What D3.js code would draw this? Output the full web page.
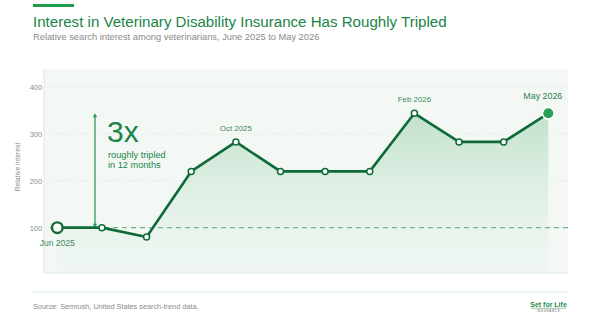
<!DOCTYPE html>
<html><head><meta charset="utf-8">
<script src="https://cdn.jsdelivr.net/npm/d3@7"></script>
<style>
html,body{margin:0;padding:0;background:#fff;}
svg{display:block;font-family:"Liberation Sans",Arial,Helvetica,sans-serif;}
</style></head>
<body><svg id="c" width="595" height="327"></svg>
<script>
const months = ["Jun 2025","Jul 2025","Aug 2025","Sep 2025","Oct 2025","Nov 2025","Dec 2025","Jan 2026","Feb 2026","Mar 2026","Apr 2026","May 2026"];
const values = [100,100,80,220,283,220,220,220,344,283,283,344];
const yTicks = [100,200,300,400];
const labeled = {"Jun 2025":"below","Oct 2025":"above","Feb 2026":"above","May 2026":"end"};
const title = "Interest in Veterinary Disability Insurance Has Roughly Tripled";
const subtitle = "Relative search interest among veterinarians, June 2025 to May 2026";
const source = "Source: Semrush, United States search-trend data.";

const svg = d3.select("#c");
const panel = {x0:44, x1:568, y0:69, y1:273};
const x = d3.scalePoint().domain(months).range([57.3,548.3]);
const y = d3.scaleLinear().domain([0,440]).range([274.5,68.3]);

const defs = svg.append("defs");
const g1 = defs.append("linearGradient").attr("id","ag").attr("x1",0).attr("y1",0).attr("x2",0).attr("y2",1);
g1.append("stop").attr("offset","0%").attr("stop-color","#bfe0ca").attr("stop-opacity",0.95);
g1.append("stop").attr("offset","100%").attr("stop-color","#e8f4ec").attr("stop-opacity",0.3);

// title
svg.append("rect").attr("x",33).attr("y",4).attr("width",41).attr("height",3).attr("fill","#1f9a4e");
svg.append("text").attr("x",33).attr("y",26.5).attr("font-size",15.1).attr("fill","#1a8447").text(title);
svg.append("text").attr("x",33).attr("y",39.5).attr("font-size",9.3).attr("fill","#8a8a8a").text(subtitle);

// panel
svg.append("rect").attr("x",panel.x0).attr("y",panel.y0).attr("width",panel.x1-panel.x0).attr("height",panel.y1-panel.y0).attr("fill","#f3f8f5");
svg.append("line").attr("x1",panel.x0).attr("x2",panel.x0).attr("y1",panel.y0).attr("y2",panel.y1).attr("stroke","#dcebe2").attr("stroke-width",1);
svg.append("line").attr("x1",panel.x0).attr("x2",panel.x1).attr("y1",panel.y1).attr("y2",panel.y1).attr("stroke","#dcebe2").attr("stroke-width",1);

// grid
const grid = svg.append("g");
yTicks.filter(t=>t!==100).forEach(t=>{
  grid.append("line").attr("x1",panel.x0).attr("x2",panel.x1).attr("y1",y(t)).attr("y2",y(t))
    .attr("stroke","#dde8e1").attr("stroke-width",0.8).attr("stroke-dasharray","1.5,1.5");
});

// y axis
const yAxis = d3.axisLeft(y).tickValues(yTicks).tickSize(0).tickPadding(0);
const ya = svg.append("g").attr("transform",`translate(${panel.x0-2},0)`).call(yAxis);
ya.select(".domain").remove();
ya.selectAll("text").attr("font-size",7.4).attr("fill","#8a8a8a").attr("font-family","Liberation Sans, Arial, sans-serif");
svg.append("text").attr("transform",`translate(20,167) rotate(-90)`).attr("text-anchor","middle")
  .attr("font-size",6.8).attr("fill","#8a8a8a").text("Relative interest");

// area
const area = d3.area().x(d=>x(d.m)).y0(panel.y1).y1(d=>y(d.v));
const data = months.map((m,i)=>({m,v:values[i]}));
svg.append("path").datum(data).attr("d",area).attr("fill","url(#ag)");

// baseline dashed
svg.append("line").attr("x1",panel.x0+6).attr("x2",panel.x1).attr("y1",y(100)).attr("y2",y(100))
  .attr("stroke","#6db58a").attr("stroke-width",1.2).attr("stroke-dasharray","5,4");

// arrow
const ax = 95;
const maxV = d3.max(values);
svg.append("line").attr("x1",ax).attr("x2",ax).attr("y1",y(maxV)+2).attr("y2",y(100)-2).attr("stroke","#2e9a58").attr("stroke-width",1.3);
svg.append("path").attr("d",`M${ax-2.2},${y(maxV)+4}L${ax},${y(maxV)}L${ax+2.2},${y(maxV)+4}Z`).attr("fill","#2e9a58");
svg.append("path").attr("d",`M${ax-2.2},${y(100)-4}L${ax},${y(100)}L${ax+2.2},${y(100)-4}Z`).attr("fill","#2e9a58");
svg.append("text").attr("x",107).attr("y",142).attr("font-size",30).attr("fill","#1a8447").text("3x");
svg.append("text").attr("x",108).attr("y",158).attr("font-size",9.2).attr("fill","#1a8447").text("roughly tripled");
svg.append("text").attr("x",108).attr("y",168).attr("font-size",9.2).attr("fill","#1a8447").text("in 12 months");

// line
const line = d3.line().x(d=>x(d.m)).y(d=>y(d.v));
svg.append("path").datum(data).attr("d",line).attr("fill","none").attr("stroke","#0e6b37").attr("stroke-width",2.6).attr("stroke-linejoin","round");

// points
data.forEach((d,i)=>{
  if(i===0){
    svg.append("circle").attr("cx",x(d.m)).attr("cy",y(d.v)).attr("r",5.3).attr("fill","#fff").attr("stroke","#0e6b37").attr("stroke-width",2.4);
  } else if(i===data.length-1){
    svg.append("circle").attr("cx",x(d.m)).attr("cy",y(d.v)).attr("r",5.8).attr("fill","#27a055").attr("stroke","#fff").attr("stroke-width",1.5);
  } else {
    svg.append("circle").attr("cx",x(d.m)).attr("cy",y(d.v)).attr("r",3).attr("fill","#fff").attr("stroke","#0e6b37").attr("stroke-width",1.5);
  }
});

// point labels
data.forEach(d=>{
  const pos = labeled[d.m];
  if(!pos) return;
  const t = svg.append("text").attr("text-anchor","middle").text(d.m);
  if(pos==="below") t.attr("x",x(d.m)).attr("y",y(d.v)+18).attr("font-size",8.5).attr("fill","#3a8a5c");
  else if(pos==="above") t.attr("x",x(d.m)).attr("y",y(d.v)-11).attr("font-size",7.9).attr("fill","#3a8a5c");
  else t.attr("x",x(d.m)-5.5).attr("y",y(d.v)-14).attr("font-size",8.9).attr("fill","#2f7d50");
});

// footer
svg.append("line").attr("x1",32).attr("x2",568).attr("y1",292).attr("y2",292).attr("stroke","#d3ebdd").attr("stroke-width",1);
svg.append("text").attr("x",33).attr("y",309).attr("font-size",7.3).attr("fill","#8a8a8a").text(source);
svg.append("text").attr("x",548.5).attr("y",307).attr("text-anchor","middle").attr("font-size",7).attr("font-weight","bold").attr("fill","#1f8a4c").text("Set for Life");
svg.append("line").attr("x1",531).attr("x2",566).attr("y1",308.3).attr("y2",308.3).attr("stroke","#1f8a4c").attr("stroke-width",0.5);
svg.append("text").attr("x",548.5).attr("y",312).attr("text-anchor","middle").attr("font-size",2.8).attr("letter-spacing",0.8).attr("fill","#555").text("INSURANCE");
</script></body></html>
